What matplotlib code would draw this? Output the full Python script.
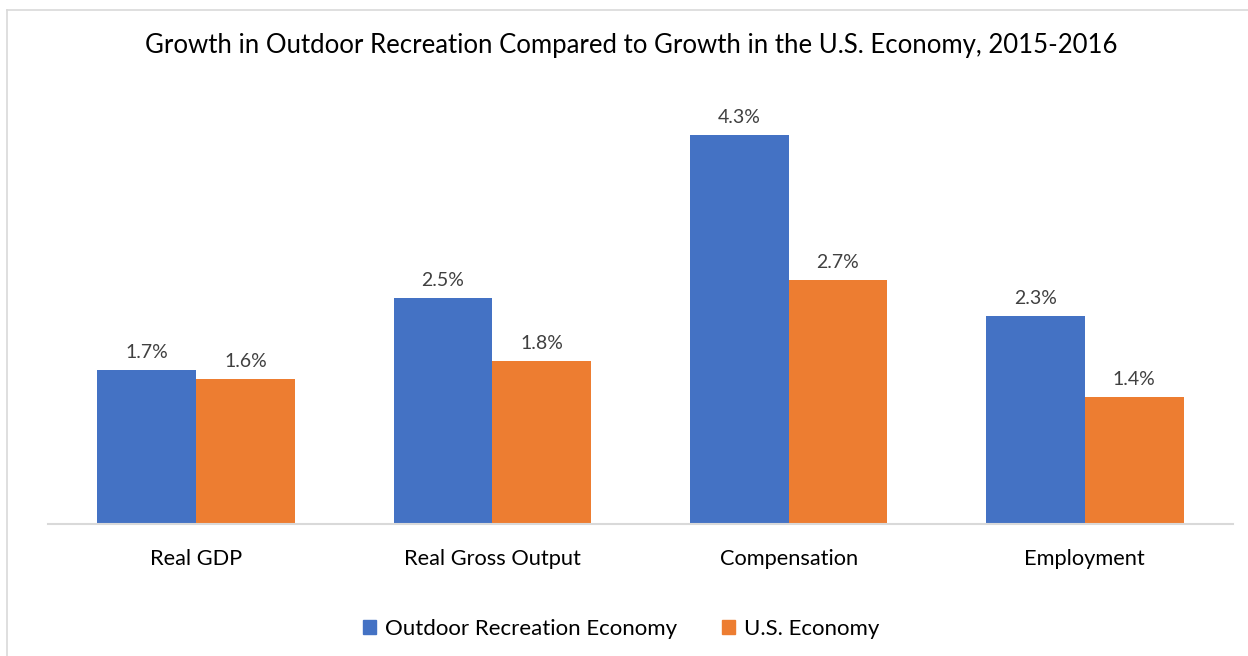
import matplotlib.pyplot as plt
import numpy as np
from matplotlib.lines import Line2D
from matplotlib.patches import Patch

categories = ['Real GDP', 'Real Gross Output', 'Compensation', 'Employment']
outdoor = [1.7, 2.5, 4.3, 2.3]
us_economy = [1.6, 1.8, 2.7, 1.4]
series_names = ['Outdoor Recreation Economy', 'U.S. Economy']

blue = '#4472C4'
orange = '#ED7D31'
font = 'Lato'

fig = plt.figure(figsize=(12.48, 6.56), dpi=100)
ax = fig.add_axes([48 / 1248, 132 / 656, 1185 / 1248, 434 / 656])

x = np.arange(len(categories))
w = 0.333
b1 = ax.bar(x - w / 2, outdoor, w, color=blue, label=series_names[0])
b2 = ax.bar(x + w / 2, us_economy, w, color=orange, label=series_names[1])

# подписи значений над столбцами
for bars in (b1, b2):
    for r in bars:
        ax.text(r.get_x() + r.get_width() / 2, r.get_height() + 0.1,
                f'{r.get_height():.1f}%', ha='center', va='bottom',
                fontsize=14, color='#404040', family=font)

ax.set_xlim(-0.5, len(categories) - 0.5)
ax.set_ylim(0, 4.8)
ax.set_xticks(x)
ax.set_xticklabels(categories, fontsize=15.7, family=font, color='#000000')
ax.tick_params(axis='x', length=0, pad=18)
ax.set_yticks([])
for s in ['top', 'right', 'left']:
    ax.spines[s].set_visible(False)
ax.spines['bottom'].set_color('#d9d9d9')
ax.spines['bottom'].set_linewidth(1.5)

fig.text(631 / 1248, 1 - 45 / 656,
         'Growth in Outdoor Recreation Compared to Growth in the U.S. Economy, 2015-2016',
         ha='center', va='center', fontsize=18.5, family=font, color='#000000')

handles = [Patch(color=blue), Patch(color=orange)]
fig.legend(handles, series_names, loc='center', bbox_to_anchor=(621 / 1248, 1 - 629 / 656),
           ncol=2, frameon=False, prop={'family': font, 'size': 16},
           handlelength=0.6, handleheight=0.6, handletextpad=0.4, columnspacing=2.0)

# рамка области диаграммы (видны только левая и верхняя стороны)
fig.add_artist(Line2D([7 / 1248, 7 / 1248], [0, 1 - 10 / 656], transform=fig.transFigure,
                      color='#d9d9d9', lw=1.2))
fig.add_artist(Line2D([7 / 1248, 1], [1 - 10 / 656, 1 - 10 / 656], transform=fig.transFigure,
                      color='#d9d9d9', lw=1.2))

fig.savefig('out.png', dpi=100)
